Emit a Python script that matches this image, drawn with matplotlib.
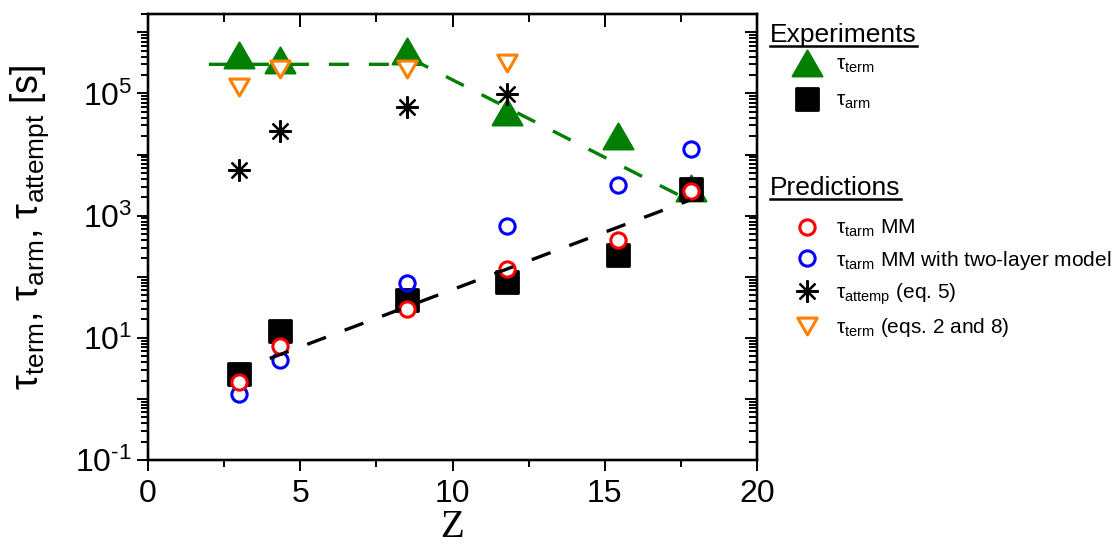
import matplotlib
matplotlib.use("Agg")
import matplotlib.pyplot as plt
from matplotlib.ticker import LogLocator, FuncFormatter, MultipleLocator, NullFormatter
from matplotlib.markers import MarkerStyle
from matplotlib.lines import Line2D
from matplotlib.path import Path
import numpy as np

plt.rcParams['font.family'] = ['Liberation Sans', 'DejaVu Sans']
plt.rcParams['mathtext.fontset'] = 'custom'
plt.rcParams['mathtext.rm'] = 'Liberation Sans'
plt.rcParams['mathtext.it'] = 'Liberation Sans:italic'
plt.rcParams['mathtext.bf'] = 'Liberation Sans:bold'
plt.rcParams['axes.unicode_minus'] = False

# ---- data -------------------------------------------------------------
Z = [3.0, 4.35, 8.5, 11.8, 15.45, 17.83]
tau_term_exp = [4.2e5, 3.5e5, 5.0e5, 4.9e4, 2.0e4, 2.85e3]
tau_arm_exp = [2.6, 12.8, 42.0, 81.0, 224.0, 2.7e3]
tau_tarm_mm = [1.9, 7.3, 30.0, 135.0, 400.0, 2.5e3]
tau_tarm_mm2 = [1.2, 4.3, 79.0, 670.0, 3.2e3, 1.22e4]
Z_pred = [3.0, 4.35, 8.5, 11.8]
tau_attempt = [5.6e3, 2.4e4, 5.9e4, 9.7e4]
tau_term_eqs = [1.26e5, 2.5e5, 2.5e5, 3.2e5]

# guide lines
Z_term_guide = [2.0, 9.0, 17.8]
tau_term_guide = [3.0e5, 3.0e5, 1.75e3]
Z_arm_guide = [4.0, 17.8]
tau_arm_guide = [4.6, 1.8e3]

x_ticks = [0, 5, 10, 15, 20]

GREEN = '#007f00'
ORANGE = '#ff7f00'
RED = '#ff0000'
BLUE = '#0000ff'

W, H = 1117, 547
fig = plt.figure(figsize=(W / 100, H / 100), dpi=100)
ax = fig.add_axes([148 / W, 87 / H, 609 / W, 446 / H])

ax.set_xscale('linear')
ax.set_yscale('log')
ax.set_xlim(0, 20)
ax.set_ylim(0.1, 2e6)

# equilateral triangles
_h = np.sqrt(3) / 2
_up = Path([(0, _h / 2), (-0.5, -_h / 2), (0.5, -_h / 2), (0, _h / 2)],
           [Path.MOVETO, Path.LINETO, Path.LINETO, Path.CLOSEPOLY])
_down = Path([(0, -_h / 2), (-0.5, _h / 2), (0.5, _h / 2), (0, -_h / 2)],
             [Path.MOVETO, Path.LINETO, Path.LINETO, Path.CLOSEPOLY])
tri_up = MarkerStyle(_up, joinstyle='round')
tri_down = MarkerStyle(_down, joinstyle='miter')
square = MarkerStyle('s', joinstyle='round')

h_term, = ax.plot(Z, tau_term_exp, ls='none', marker=tri_up, ms=21.5, color=GREEN,
                  mec=GREEN, mew=1.5, zorder=2)
h_arm, = ax.plot(Z, tau_arm_exp, ls='none', marker=square, ms=15.5, color='black',
                 mec='black', mew=2, zorder=3)
h_mm2, = ax.plot(Z, tau_tarm_mm2, ls='none', marker='o', ms=11, mfc='none',
                 mec=BLUE, mew=2.2, zorder=4)
h_mm, = ax.plot(Z, tau_tarm_mm, ls='none', marker='o', ms=11, mfc='white',
                mec=RED, mew=2.2, zorder=5)
ax.plot(Z_term_guide, tau_term_guide, ls=(0, (6, 6)), lw=2.4, color=GREEN, zorder=5.5)
ax.plot(Z_arm_guide, tau_arm_guide, ls=(0, (6, 6)), lw=2.4, color='black', zorder=5.5)
h_eqs, = ax.plot(Z_pred, tau_term_eqs, ls='none', marker=tri_down, ms=14, mfc='white',
                 mec=ORANGE, mew=2.2, zorder=6)
h_att, = ax.plot(Z_pred, tau_attempt, ls='none', marker=(8, 2, 0), ms=16,
                 color='black', mew=1.6, zorder=7)

# ---- axes styling -----------------------------------------------------
for s in ax.spines.values():
    s.set_linewidth(1.6)

ax.set_xticks(x_ticks)
ax.xaxis.set_minor_locator(MultipleLocator(2.5))
ax.yaxis.set_major_locator(LogLocator(base=10, numticks=30))
ax.yaxis.set_minor_locator(LogLocator(base=10, subs=np.arange(2, 10), numticks=30))
ax.yaxis.set_minor_formatter(NullFormatter())


def odd_decades(v, pos):
    e = int(round(np.log10(v)))
    if e % 2:
        sign = r'\text{-}' if e < 0 else ''
        return r'$\mathregular{10^{%s%d}}$' % (sign, abs(e))
    return ''


ax.yaxis.set_major_formatter(FuncFormatter(odd_decades))
ax.tick_params(which='both', direction='out', top=False, right=False,
               labelsize=23, width=1.4)
ax.tick_params(which='major', length=8)
ax.tick_params(which='minor', length=5)
ax.tick_params(axis='x', pad=6)

# mirrored ticks pointing inward on top and right
axt = ax.twiny()
axt.set_xlim(ax.get_xlim())
axt.xaxis.set_major_locator(MultipleLocator(5))
axt.xaxis.set_minor_locator(MultipleLocator(2.5))
axt.tick_params(which='both', direction='in', labeltop=False, width=1.4)
axt.tick_params(which='major', length=9)
axt.tick_params(which='minor', length=6)
axr = ax.twinx()
axr.set_yscale('log')
axr.set_ylim(ax.get_ylim())
axr.yaxis.set_major_locator(LogLocator(base=10, numticks=30))
axr.yaxis.set_minor_locator(LogLocator(base=10, subs=np.arange(2, 10), numticks=30))
axr.yaxis.set_minor_formatter(NullFormatter())
axr.tick_params(which='both', direction='in', labelright=False, width=1.4)
axr.tick_params(which='major', length=9)
axr.tick_params(which='minor', length=6)
for a in (axt, axr):
    for s in a.spines.values():
        s.set_linewidth(1.6)

ax.set_xlabel('Z', family='Liberation Serif', fontsize=28, labelpad=0)
ax.set_ylabel(r'τ$_{\rm term}$, τ$_{\rm arm}$, τ$_{\rm attempt}$ [s]', fontsize=27)
ax.yaxis.set_label_coords(-0.16, 0.522)

# ---- legends -----------------------------------------------------------
leg1 = fig.legend([h_term, h_arm],
                  [r'τ$_{\rm term}$', r'τ$_{\rm arm}$'],
                  loc='upper left', bbox_to_anchor=(786 / W, 1 - 55 / H),
                  frameon=False, fontsize=15, borderpad=0, borderaxespad=0,
                  handlelength=2.0, handletextpad=0.4, labelspacing=0.75)
leg2 = fig.legend([h_mm, h_mm2, h_att, h_eqs],
                  [r'τ$_{\rm tarm}$ MM', r'τ$_{\rm tarm}$ MM with two-layer model',
                   r'τ$_{\rm attemp}$ (eq. 5)', r'τ$_{\rm term}$ (eqs. 2 and 8)'],
                  loc='upper left', bbox_to_anchor=(786 / W, 1 - 218 / H),
                  frameon=False, fontsize=15, borderpad=0, borderaxespad=0,
                  handlelength=2.0, handletextpad=0.4, labelspacing=0.45)

# underlined group titles
for label, base in (('Experiments', 42), ('Predictions', 195)):
    t = fig.text(770 / W, 1 - base / H, label, fontsize=19)
    fig.canvas.draw()
    bb = t.get_window_extent(fig.canvas.get_renderer())
    yline = 1 - (base + 3.5) / H
    fig.add_artist(Line2D([bb.x0 / W, bb.x1 / W], [yline, yline],
                          transform=fig.transFigure, color='black', lw=1.8))

fig.savefig('out.png', dpi=100)
